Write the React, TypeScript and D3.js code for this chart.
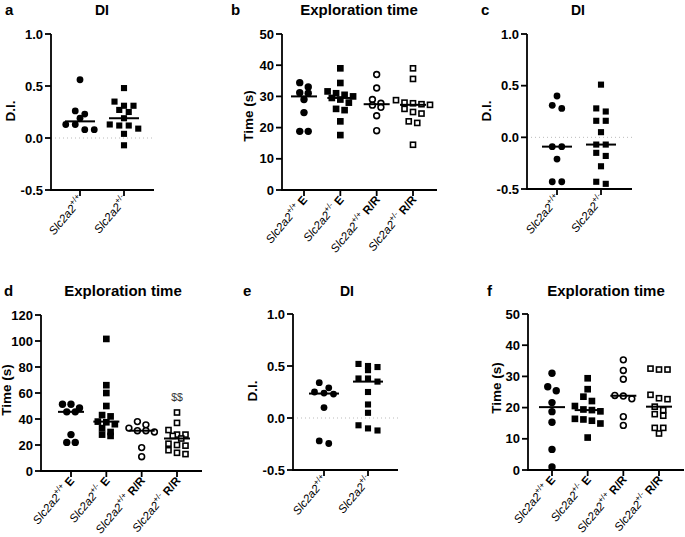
import React from 'react';
import * as d3 from 'd3';

const FONT = '"Liberation Sans", Arial, Helvetica, sans-serif';

// genotype / condition labels
const diGenos = ['+/+', '+/-'];
const expGenos = ['+/+', '+/-', '+/+', '+/-'];
const expConds = ['E', 'E', 'R/R', 'R/R'];

// y ticks
const diTicks = [-0.5, 0, 0.5, 1.0];
const exp50Ticks = [0, 10, 20, 30, 40, 50];
const exp120Ticks = [0, 20, 40, 60, 80, 100, 120];

// a - DI
const aWT = [0.56, 0.26, 0.23, 0.19, 0.13, 0.13, 0.08, 0.08];
const aHet = [0.48, 0.35, 0.31, 0.31, 0.27, 0.25, 0.19, 0.13, 0.12, 0.12, 0.09, 0.04, -0.07];

// b - exploration time
const bWTE = [34.4, 33, 31.2, 31, 29, 24.8, 18.8, 18.8];
const bHetE = [39, 34.3, 31.6, 31, 30.5, 30, 29.5, 29, 28, 26, 25.6, 22, 17.6];
const bWTR = [37, 32.7, 29, 27.8, 27.2, 26.5, 23.8, 19];
const bHetR = [39, 35.6, 28.8, 28, 27.8, 27.5, 27.3, 26, 25, 24.5, 22, 21.5, 14.5];

// c - DI
const cWT = [0.40, 0.31, 0.28, -0.09, -0.09, -0.21, -0.43, -0.43];
const cHet = [0.51, 0.28, 0.25, 0.16, 0.16, 0.05, -0.07, -0.07, -0.15, -0.18, -0.28, -0.43, -0.45];

// d - exploration time
const dWTE = [51.4, 51.4, 48.5, 45.5, 45.5, 28, 22, 22];
const dHetE = [101.6, 66, 60, 50, 43, 42, 38, 37.5, 36, 33, 30, 28, 27];
const dWTR = [38, 35.5, 33, 31, 31, 30, 18, 11];
const dHetR = [45, 37, 31.5, 28, 28, 27, 25, 21, 20, 19.5, 16, 14, 13];

// e - DI
const eWT = [0.34, 0.29, 0.25, 0.24, 0.23, 0.10, -0.22, -0.245];
const eHet = [0.52, 0.50, 0.49, 0.46, 0.38, 0.38, 0.35, 0.25, 0.13, 0.05, -0.07, -0.10, -0.12];

// f - exploration time
const fWTE = [31, 26.7, 25.4, 21.6, 18.7, 15.3, 6.6, 1];
const fHetE = [29.4, 25.9, 23.5, 22.1, 20.5, 19.4, 19.2, 18.8, 16.4, 16.2, 15.8, 14.9, 10.4];
const fWTR = [35.3, 31.9, 29.1, 23.9, 23.7, 22.8, 17.1, 14.3];
const fHetR = [32.5, 32.2, 32.2, 24.1, 23, 22.7, 20.3, 19.2, 17.9, 17.4, 13.5, 13.5, 11.7];

type Layout = {
  x0: number; xEnd: number; yTop: number; yBot: number; cL: number; cR: number;
  titleX: number; titleY: number; titleSize: number; letterX: number; ylx: number; yly: number;
};

// group points into rows and spread them sideways, GraphPad style
function swarm(values: number[], y: (v: number) => number, spacing: number, tol: number) {
  const pts = values.map(v => ({ v, y: y(v), dx: 0 })).sort((a, b) => a.y - b.y);
  let row: typeof pts = [];
  const flush = () => {
    row.forEach((p, i) => { p.dx = (i - (row.length - 1) / 2) * spacing; });
    row = [];
  };
  pts.forEach(p => {
    if (row.length && p.y - row[0].y > tol) flush();
    row.push(p);
  });
  flush();
  return pts;
}

function Marker({ kind, x, y, r }: { kind: number; x: number; y: number; r: number }) {
  const open = kind >= 2;
  const sq = kind % 2 === 1;
  const fill = open ? '#fff' : '#000';
  const sw = open ? 1.6 : 0;
  if (sq) {
    const s = r * 1.8 - sw;
    return <rect x={x - s / 2} y={y - s / 2} width={s} height={s} fill={fill} stroke="#000" strokeWidth={sw} />;
  }
  return <circle cx={x} cy={y} r={r - sw / 2} fill={fill} stroke="#000" strokeWidth={sw} />;
}

function Panel({ L, groups, genos, conds, domain, ticks, fmt, title, letter, ylabel, dotted, note }: {
  L: Layout; groups: number[][]; genos: string[]; conds?: string[]; domain: [number, number];
  ticks: number[]; fmt: (v: number) => string; title: string; letter: string; ylabel: string;
  dotted?: boolean; note?: string;
}) {
  const y = d3.scaleLinear().domain(domain).range([L.yBot, L.yTop]);
  const x = d3.scalePoint<number>().domain(groups.map((_, i) => i)).range([L.cL, L.cR]);
  const four = groups.length === 4;
  const r = four ? 3.7 : 3.4;
  const spacing = four ? 8.5 : 9.5;
  const half = four ? 13 : 15;
  return (
    <g fontFamily={FONT} fill="#000">
      <text x={L.letterX} y={L.titleY} fontSize={15} fontWeight="bold">{letter}</text>
      <text x={L.titleX} y={L.titleY} fontSize={L.titleSize} fontWeight="bold" textAnchor="middle">{title}</text>
      <text transform={`translate(${L.ylx},${L.yly}) rotate(-90)`} fontSize={13.5} fontWeight="bold" textAnchor="middle">{ylabel}</text>
      {dotted && (
        <line x1={L.x0} x2={L.xEnd} y1={y(0)} y2={y(0)} stroke="#bbb" strokeWidth={1} strokeDasharray="1,3" />
      )}
      <line x1={L.x0} x2={L.x0} y1={L.yTop} y2={L.yBot + 1} stroke="#000" strokeWidth={1.8} />
      <line x1={L.x0 - 1} x2={L.xEnd} y1={L.yBot} y2={L.yBot} stroke="#000" strokeWidth={1.8} />
      {ticks.map(t => (
        <g key={t}>
          <line x1={L.x0 - 6} x2={L.x0} y1={y(t)} y2={y(t)} stroke="#000" strokeWidth={1.8} />
          <text x={L.x0 - 8} y={y(t)} dy="0.36em" textAnchor="end" fontSize={13} fontWeight="bold">{fmt(t)}</text>
        </g>
      ))}
      {groups.map((g, i) => {
        const cx = x(i) as number;
        const med = d3.median(g) as number;
        const pts = swarm(g, y, spacing, 5.5);
        return (
          <g key={i}>
            <line x1={cx} x2={cx} y1={L.yBot} y2={L.yBot + 6} stroke="#000" strokeWidth={1.8} />
            {pts.map((p, j) => <Marker key={j} kind={i} x={cx + p.dx} y={p.y} r={r} />)}
            <line x1={cx - half} x2={cx + half} y1={y(med)} y2={y(med)} stroke="#000" strokeWidth={2} />
            <text transform={`translate(${cx + 4},${L.yBot + 10}) rotate(-50)`} textAnchor="end" fontSize={11.5} fill="#000">
              <tspan fontStyle="italic">Slc2a2</tspan>
              <tspan fontSize={8} dy={-5}>{genos[i]}</tspan>
              {conds && <tspan fontWeight="bold" dy={5}>{' ' + conds[i]}</tspan>}
            </text>
          </g>
        );
      })}
      {note && (
        <text x={x(3) as number} y={y(d3.max(groups[3]) as number) - 12} textAnchor="middle" fontSize={10.5} fill="#333">{note}</text>
      )}
    </g>
  );
}

const fmtDI = (v: number) => v.toFixed(1);
const fmtInt = (v: number) => String(v);

const LA: Layout = { x0: 51, xEnd: 154, yTop: 34, yBot: 190, cL: 80, cR: 124, titleX: 102, titleY: 15, titleSize: 14, letterX: 5, ylx: 15, yly: 111 };
const LB: Layout = { x0: 282, xEnd: 437, yTop: 34, yBot: 190, cL: 304, cR: 413, titleX: 359, titleY: 15, titleSize: 15, letterX: 231, ylx: 253, yly: 116 };
const LC: Layout = { x0: 527, xEnd: 632, yTop: 34, yBot: 189, cL: 557, cR: 601, titleX: 578, titleY: 15, titleSize: 14, letterX: 481, ylx: 491, yly: 111 };
const LD: Layout = { x0: 41, xEnd: 202, yTop: 315, yBot: 471, cL: 71, cR: 177, titleX: 123, titleY: 296, titleSize: 15, letterX: 4, ylx: 11, yly: 390 };
const LE: Layout = { x0: 293, xEnd: 398, yTop: 314, yBot: 470, cL: 324, cR: 368, titleX: 347, titleY: 296, titleSize: 14, letterX: 243, ylx: 257, yly: 391 };
const LF: Layout = { x0: 528, xEnd: 684, yTop: 314, yBot: 470, cL: 552, cR: 659, titleX: 606, titleY: 296, titleSize: 15, letterX: 487, ylx: 501, yly: 388 };

export default function App() {
  return (
    <svg width={685} height={537} style={{ position: 'absolute', left: 0, top: 0, background: '#fff' }}>
      <Panel L={LA} groups={[aWT, aHet]} genos={diGenos} domain={[-0.5, 1]} ticks={diTicks} fmt={fmtDI} title="DI" letter="a" ylabel="D.I." dotted />
      <Panel L={LB} groups={[bWTE, bHetE, bWTR, bHetR]} genos={expGenos} conds={expConds} domain={[0, 50]} ticks={exp50Ticks} fmt={fmtInt} title="Exploration time" letter="b" ylabel="Time (s)" />
      <Panel L={LC} groups={[cWT, cHet]} genos={diGenos} domain={[-0.5, 1]} ticks={diTicks} fmt={fmtDI} title="DI" letter="c" ylabel="D.I." dotted />
      <Panel L={LD} groups={[dWTE, dHetE, dWTR, dHetR]} genos={expGenos} conds={expConds} domain={[0, 120]} ticks={exp120Ticks} fmt={fmtInt} title="Exploration time" letter="d" ylabel="Time (s)" note="$$" />
      <Panel L={LE} groups={[eWT, eHet]} genos={diGenos} domain={[-0.5, 1]} ticks={diTicks} fmt={fmtDI} title="DI" letter="e" ylabel="D.I." dotted />
      <Panel L={LF} groups={[fWTE, fHetE, fWTR, fHetR]} genos={expGenos} conds={expConds} domain={[0, 50]} ticks={exp50Ticks} fmt={fmtInt} title="Exploration time" letter="f" ylabel="Time (s)" />
    </svg>
  );
}
